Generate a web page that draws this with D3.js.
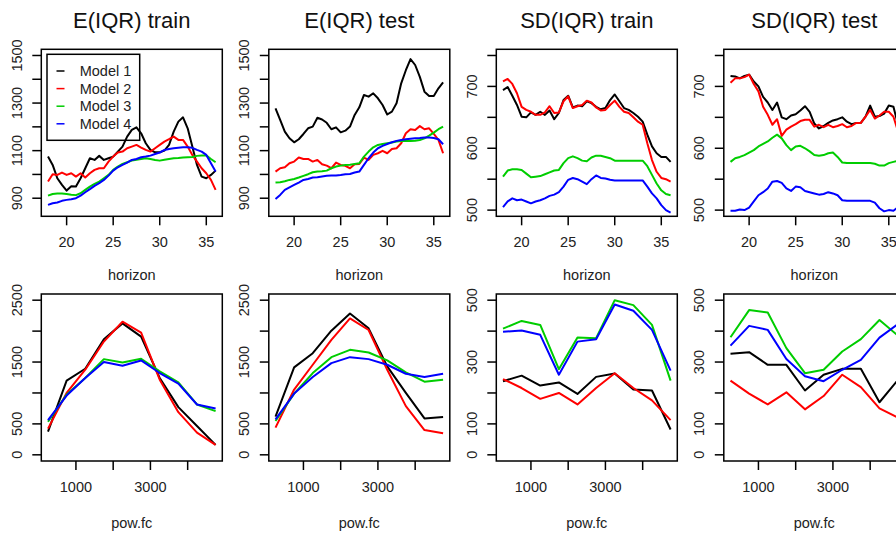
<!DOCTYPE html>
<html lang="en">
<head>
  <meta charset="UTF-8">
  <title>IQR by horizon and pow.fc</title>
  <script src="https://d3js.org/d3.v7.min.js"></script>
  <style>
    body { margin: 0; background: #fff; }
    text { font-family: "Liberation Sans", Arial, Helvetica, sans-serif; }
  </style>
</head>
<body>
<div class="canvas"></div>
<script>
  const models = ['Model 1', 'Model 2', 'Model 3', 'Model 4']
  const colors = ['black', 'red', '#00cd00', 'blue']

  const horizon = [18, 18.5, 19, 19.5, 20, 20.5, 21, 21.5, 22, 22.5, 23, 23.5, 24, 24.5, 25, 25.5, 26, 26.5,
    27, 27.5, 28, 28.5, 29, 29.5, 30, 30.5, 31, 31.5, 32, 32.5, 33, 33.5, 34, 34.5, 35, 35.5, 36]
  const powFc = [250, 750, 1250, 1750, 2250, 2750, 3250, 3750, 4250, 4750]

  // E(IQR) by horizon, one row per model
  const eTrain = [
    [1075, 1040, 984, 956, 932, 950, 949, 984, 1026, 1068, 1061, 1078, 1061, 1068, 1075, 1096, 1117, 1159, 1187, 1198, 1173, 1131, 1103, 1093, 1093, 1100, 1124, 1180, 1222, 1240, 1194, 1117, 1040, 991, 984, 998, 1016],
    [970, 1001, 998, 1008, 998, 1005, 991, 1005, 987, 1005, 1019, 1026, 1026, 1054, 1075, 1092, 1096, 1110, 1117, 1124, 1113, 1103, 1096, 1110, 1124, 1138, 1148, 1159, 1145, 1145, 1117, 1082, 1054, 1026, 1005, 977, 935],
    [911, 918, 920, 920, 918, 915, 913, 921, 935, 949, 960, 970, 984, 998, 1019, 1033, 1044, 1051, 1058, 1062, 1065, 1068, 1065, 1061, 1058, 1062, 1065, 1068, 1069, 1071, 1072, 1073, 1078, 1080, 1080, 1065, 1051],
    [872, 879, 882, 889, 893, 896, 900, 911, 925, 938, 952, 963, 977, 995, 1016, 1030, 1040, 1050, 1061, 1065, 1072, 1075, 1079, 1086, 1092, 1103, 1107, 1110, 1112, 1114, 1114, 1112, 1103, 1096, 1082, 1047, 1012]
  ]
  const eTest = [
    [1278, 1229, 1180, 1152, 1135, 1148, 1170, 1194, 1201, 1238, 1231, 1217, 1190, 1198, 1177, 1184, 1201, 1250, 1282, 1334, 1327, 1341, 1320, 1292, 1252, 1264, 1299, 1383, 1438, 1485, 1460, 1410, 1348, 1330, 1330, 1362, 1387],
    [1012, 1026, 1030, 1047, 1054, 1071, 1065, 1065, 1054, 1061, 1043, 1037, 1026, 1050, 1040, 1036, 1026, 1043, 1044, 1071, 1061, 1082, 1089, 1099, 1089, 1107, 1110, 1131, 1173, 1190, 1187, 1203, 1190, 1194, 1170, 1145, 1089],
    [966, 967, 971, 977, 981, 987, 994, 1001, 1009, 1012, 1013, 1016, 1026, 1033, 1037, 1040, 1041, 1044, 1047, 1075, 1096, 1114, 1124, 1128, 1131, 1134, 1138, 1141, 1141, 1141, 1142, 1145, 1152, 1163, 1176, 1190, 1201],
    [897, 914, 935, 946, 956, 966, 977, 981, 987, 988, 991, 994, 995, 996, 998, 1001, 1002, 1008, 1012, 1040, 1068, 1092, 1110, 1120, 1128, 1135, 1141, 1145, 1148, 1150, 1152, 1153, 1155, 1155, 1153, 1148, 1127]
  ]
  // SD(IQR) by horizon
  const sdTrain = [
    [694, 699, 685, 670, 651, 650, 658, 654, 659, 654, 661, 647, 657, 678, 685, 666, 669, 668, 676, 673, 667, 663, 665, 678, 687, 676, 665, 662, 657, 651, 643, 622, 603, 592, 586, 586, 578],
    [708, 712, 704, 689, 667, 662, 659, 654, 654, 658, 668, 657, 658, 676, 684, 665, 668, 670, 677, 674, 666, 661, 662, 670, 677, 667, 659, 657, 650, 643, 638, 608, 581, 562, 552, 550, 546],
    [554, 564, 566, 566, 565, 559, 553, 554, 555, 558, 561, 564, 565, 576, 584, 587, 584, 580, 579, 585, 588, 588, 586, 584, 580, 580, 580, 580, 580, 580, 580, 571, 557, 543, 532, 526, 524],
    [505, 514, 519, 516, 517, 514, 511, 514, 516, 519, 523, 525, 529, 538, 549, 552, 550, 546, 542, 550, 556, 552, 551, 549, 548, 548, 548, 548, 548, 548, 548, 538, 527, 519, 508, 500, 496]
  ]
  const sdTest = [
    [717, 716, 713, 717, 719, 708, 700, 683, 674, 662, 674, 650, 647, 653, 655, 661, 668, 659, 640, 632, 636, 641, 645, 647, 650, 643, 639, 641, 641, 651, 669, 651, 652, 656, 669, 667, 638],
    [706, 713, 713, 715, 719, 704, 692, 667, 654, 638, 647, 620, 630, 635, 639, 644, 646, 646, 635, 638, 634, 638, 634, 636, 639, 634, 636, 641, 641, 651, 662, 648, 653, 659, 659, 651, 627],
    [578, 584, 586, 589, 593, 597, 603, 607, 611, 617, 622, 616, 605, 597, 603, 604, 600, 595, 589, 588, 589, 592, 593, 586, 577, 576, 576, 576, 576, 576, 576, 575, 572, 572, 576, 578, 580],
    [499, 499, 501, 500, 504, 514, 524, 529, 535, 546, 547, 544, 535, 531, 538, 537, 531, 529, 527, 525, 526, 529, 527, 524, 516, 515, 515, 515, 515, 515, 515, 512, 503, 498, 500, 499, 505]
  ]
  // same measures by pow.fc
  const eTrainPow = [
    [375, 1199, 1392, 1868, 2125, 1911, 1242, 771, 466, 161],
    [423, 1001, 1376, 1831, 2152, 1975, 1215, 690, 359, 161],
    [535, 974, 1242, 1547, 1493, 1552, 1349, 1172, 814, 707],
    [562, 958, 1242, 1499, 1440, 1526, 1322, 1151, 814, 749]
  ]
  const eTestPow = [
    [616, 1413, 1643, 2007, 2286, 2045, 1429, 1001, 589, 610],
    [439, 1055, 1456, 1857, 2205, 2018, 1376, 787, 401, 348],
    [546, 990, 1322, 1579, 1697, 1654, 1526, 1333, 1183, 1215],
    [573, 990, 1258, 1483, 1579, 1547, 1456, 1311, 1258, 1311]
  ]
  const sdTrainPow = [
    [238, 256, 224, 234, 197, 252, 263, 211, 208, 82],
    [245, 216, 181, 200, 163, 216, 264, 216, 176, 112],
    [408, 433, 420, 277, 379, 377, 500, 484, 420, 240],
    [398, 402, 388, 259, 366, 374, 486, 466, 404, 272]
  ]
  const sdTestPow = [
    [327, 332, 291, 291, 208, 259, 278, 278, 170, 243],
    [240, 198, 163, 202, 147, 190, 259, 219, 150, 120],
    [380, 468, 460, 345, 264, 275, 334, 374, 436, 385],
    [353, 417, 404, 310, 254, 238, 275, 307, 379, 423]
  ]

  // axis ticks and the labels R kept
  const horizonTicks = [20, 25, 30, 35]
  const powTicks = [1000, 2000, 3000, 4000]
  const powLabels = [1000, 3000]
  const eTicks = [900, 1000, 1100, 1200, 1300, 1400, 1500]
  const eLabels = [900, 1100, 1300, 1500]
  const sdTicks = [500, 550, 600, 650, 700, 750]
  const sdLabels = [500, 600, 700]
  const ePowTicks = [0, 500, 1000, 1500, 2000, 2500]
  const ePowLabels = [0, 500, 1500, 2500]
  const sdPowTicks = [0, 100, 200, 300, 400, 500]
  const sdPowLabels = [0, 100, 300, 500]

  const panels = [
    { title: 'E(IQR) train', xs: horizon, ys: eTrain, xlim: [18, 36], ylim: [850, 1500], xt: horizonTicks, xl: horizonTicks, yt: eTicks, yl: eLabels, xlab: 'horizon', legend: true },
    { title: 'E(IQR) test', xs: horizon, ys: eTest, xlim: [18, 36], ylim: [850, 1500], xt: horizonTicks, xl: horizonTicks, yt: eTicks, yl: eLabels, xlab: 'horizon' },
    { title: 'SD(IQR) train', xs: horizon, ys: sdTrain, xlim: [18, 36], ylim: [500, 750], xt: horizonTicks, xl: horizonTicks, yt: sdTicks, yl: sdLabels, xlab: 'horizon' },
    { title: 'SD(IQR) test', xs: horizon, ys: sdTest, xlim: [18, 36], ylim: [500, 750], xt: horizonTicks, xl: horizonTicks, yt: sdTicks, yl: sdLabels, xlab: 'horizon' },
    { xs: powFc, ys: eTrainPow, xlim: [250, 4750], ylim: [0, 2500], xt: powTicks, xl: powLabels, yt: ePowTicks, yl: ePowLabels, xlab: 'pow.fc' },
    { xs: powFc, ys: eTestPow, xlim: [250, 4750], ylim: [0, 2500], xt: powTicks, xl: powLabels, yt: ePowTicks, yl: ePowLabels, xlab: 'pow.fc' },
    { xs: powFc, ys: sdTrainPow, xlim: [250, 4750], ylim: [0, 500], xt: powTicks, xl: powLabels, yt: sdPowTicks, yl: sdPowLabels, xlab: 'pow.fc' },
    { xs: powFc, ys: sdTestPow, xlim: [250, 4750], ylim: [0, 500], xt: powTicks, xl: powLabels, yt: sdPowTicks, yl: sdPowLabels, xlab: 'pow.fc' }
  ]

  const W = 896, H = 536
  const boxW = 181, boxH = 167, colStep = 227.5
  const fs = 14.5

  const svg = d3.select('.canvas')
    .append('svg')
    .attr('width', W)
    .attr('height', H)

  // R style 4% padding on each side
  const pad = lim => {
    const r = lim[1] - lim[0]
    return [lim[0] - 0.04 * r, lim[1] + 0.04 * r]
  }

  panels.forEach((p, k) => {
    const col = k % 4, row = Math.floor(k / 4)
    const left = 41.3 + col * colStep
    const top = row === 0 ? 49.3 : 294
    const bottom = top + boxH

    const x = d3.scaleLinear().domain(pad(p.xlim)).range([left, left + boxW])
    const y = d3.scaleLinear().domain(pad(p.ylim)).range([bottom, top])

    const g = svg.append('g')

    g.append('clipPath').attr('id', 'clip' + k)
      .append('rect')
      .attr('x', left).attr('y', top).attr('width', boxW).attr('height', boxH)

    const line = d3.line()
      .x((d, i) => x(p.xs[i]))
      .y(d => y(d))

    // models drawn in order 1..4, as matplot/lines would
    g.append('g').attr('clip-path', `url(#clip${k})`)
      .selectAll('path')
      .data(p.ys)
      .enter()
      .append('path')
      .attr('fill', 'none')
      .attr('stroke', (d, i) => colors[i])
      .attr('stroke-width', 2)
      .attr('stroke-linejoin', 'round')
      .attr('d', line)

    g.append('rect')
      .attr('x', left).attr('y', top).attr('width', boxW).attr('height', boxH)
      .attr('fill', 'none').attr('stroke', 'black').attr('stroke-width', 1.5)

    // x axis
    g.selectAll('.xt').data(p.xt).enter().append('line')
      .attr('x1', d => x(d)).attr('x2', d => x(d))
      .attr('y1', bottom).attr('y2', bottom + 9)
      .attr('stroke', 'black').attr('stroke-width', 1.5)
    g.selectAll('.xl').data(p.xl).enter().append('text')
      .attr('x', d => x(d)).attr('y', bottom + 31)
      .attr('text-anchor', 'middle')
      .attr('font-size', fs)
      .attr('fill', '#222')
      .text(d => d)

    // y axis, labels rotated like las=0
    g.selectAll('.yt').data(p.yt).enter().append('line')
      .attr('x1', left).attr('x2', left - 9)
      .attr('y1', d => y(d)).attr('y2', d => y(d))
      .attr('stroke', 'black').attr('stroke-width', 1.5)
    g.selectAll('.yl').data(p.yl).enter().append('text')
      .attr('transform', d => `translate(${left - 19.8},${y(d)}) rotate(-90)`)
      .attr('text-anchor', 'middle')
      .attr('font-size', fs)
      .attr('fill', '#222')
      .text(d => d)

    g.append('text')
      .attr('x', left + boxW / 2).attr('y', row === 0 ? 280 : 528)
      .attr('text-anchor', 'middle')
      .attr('font-size', fs)
      .attr('fill', '#222')
      .text(p.xlab)

    if (p.title) {
      g.append('text')
        .attr('x', left + boxW / 2).attr('y', 28)
        .attr('text-anchor', 'middle')
        .attr('font-size', 22)
        .attr('fill', '#111')
        .text(p.title)
    }

    if (p.legend) {
      const lg = g.append('g')
      lg.append('rect')
        .attr('x', 47).attr('y', 54.3).attr('width', 92.7).attr('height', 86)
        .attr('fill', 'none').attr('stroke', 'black').attr('stroke-width', 1.5)
      const rows = lg.selectAll('.lr').data(models).enter().append('g')
        .attr('transform', (d, i) => `translate(0,${71 + i * 17.6})`)
      rows.append('line')
        .attr('x1', 56.5).attr('x2', 64.5).attr('y1', 0).attr('y2', 0)
        .attr('stroke', (d, i) => colors[i]).attr('stroke-width', 1.5)
      rows.append('text')
        .attr('x', 79.7).attr('y', 5.2)
        .attr('font-size', fs)
        .attr('fill', '#222')
        .text(d => d)
    }
  })
</script>
</body>
</html>
